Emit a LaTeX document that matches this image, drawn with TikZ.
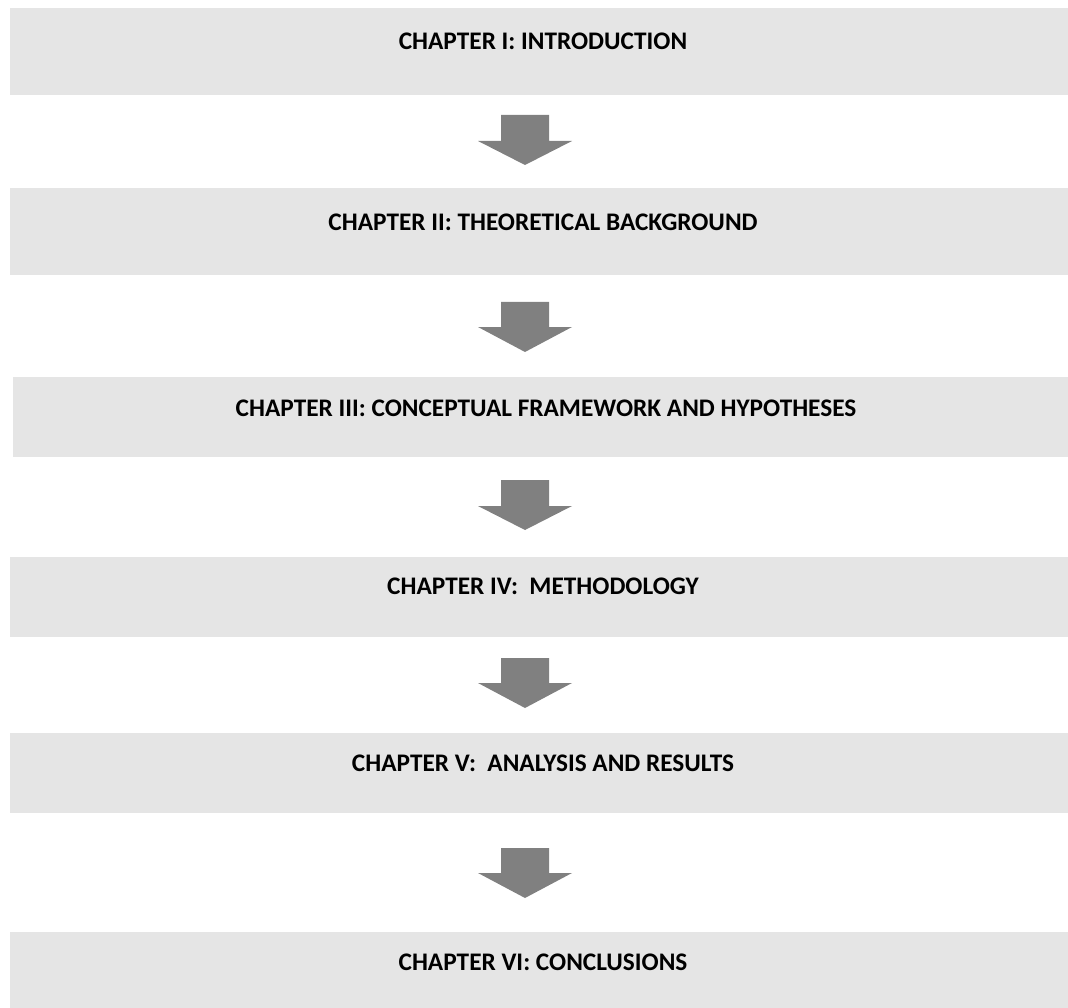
\documentclass[tikz,border=0pt]{standalone}
\usepackage{fontspec}
\setmainfont{Carlito}
\definecolor{boxgray}{HTML}{E5E5E5}
\definecolor{arrowgray}{HTML}{808080}
\tikzset{
  chapbox/.style={fill=boxgray, draw=none, rectangle, inner sep=0pt, anchor=north west},
  chaptext/.style={font=\fontsize{25.3}{30}\selectfont\bfseries, text=black, inner sep=0pt, anchor=center},
  blockarrow/.style={fill=arrowgray, draw=none}
}
\newcommand{\chapterarrow}[4]{% ytop, yshoulder, ytip, name
  \fill[blockarrow] (501,#1) -- (549,#1) -- (549,#2) -- (572,#2) -- (525,#3) -- (478,#2) -- (501,#2) -- cycle;
  \coordinate (#4) at (525,#3);
}
\begin{document}
\begin{tikzpicture}[x=1pt,y=-1pt]
\useasboundingbox (0,0) rectangle (1068,1008);
\node[chapbox, minimum width=1058pt, minimum height=87pt] (b1) at (10,8) {};
\node[chapbox, minimum width=1058pt, minimum height=87pt] (b2) at (10,188) {};
\node[chapbox, minimum width=1055pt, minimum height=80pt] (b3) at (13,377) {};
\node[chapbox, minimum width=1058pt, minimum height=80pt] (b4) at (10,557) {};
\node[chapbox, minimum width=1058pt, minimum height=80pt] (b5) at (10,733) {};
\node[chapbox, minimum width=1058pt, minimum height=76pt] (b6) at (10,932) {};
\node[chaptext] (t1) at (543,41) {CHAPTER I: INTRODUCTION};
\node[chaptext] (t2) at (543,222) {CHAPTER II: THEORETICAL BACKGROUND};
\node[chaptext] (t3) at (546,408) {CHAPTER III: CONCEPTUAL FRAMEWORK AND HYPOTHESES};
\node[chaptext] (t4) at (543,586) {CHAPTER IV:\ \ METHODOLOGY};
\node[chaptext] (t5) at (543,763) {CHAPTER V:\ \ ANALYSIS AND RESULTS};
\node[chaptext] (t6) at (543,962) {CHAPTER VI: CONCLUSIONS};
\chapterarrow{115}{141}{165}{a1}
\chapterarrow{302}{327}{352}{a2}
\chapterarrow{480}{506}{530}{a3}
\chapterarrow{658}{683}{708}{a4}
\chapterarrow{848}{873}{898}{a5}
\end{tikzpicture}
\end{document}
